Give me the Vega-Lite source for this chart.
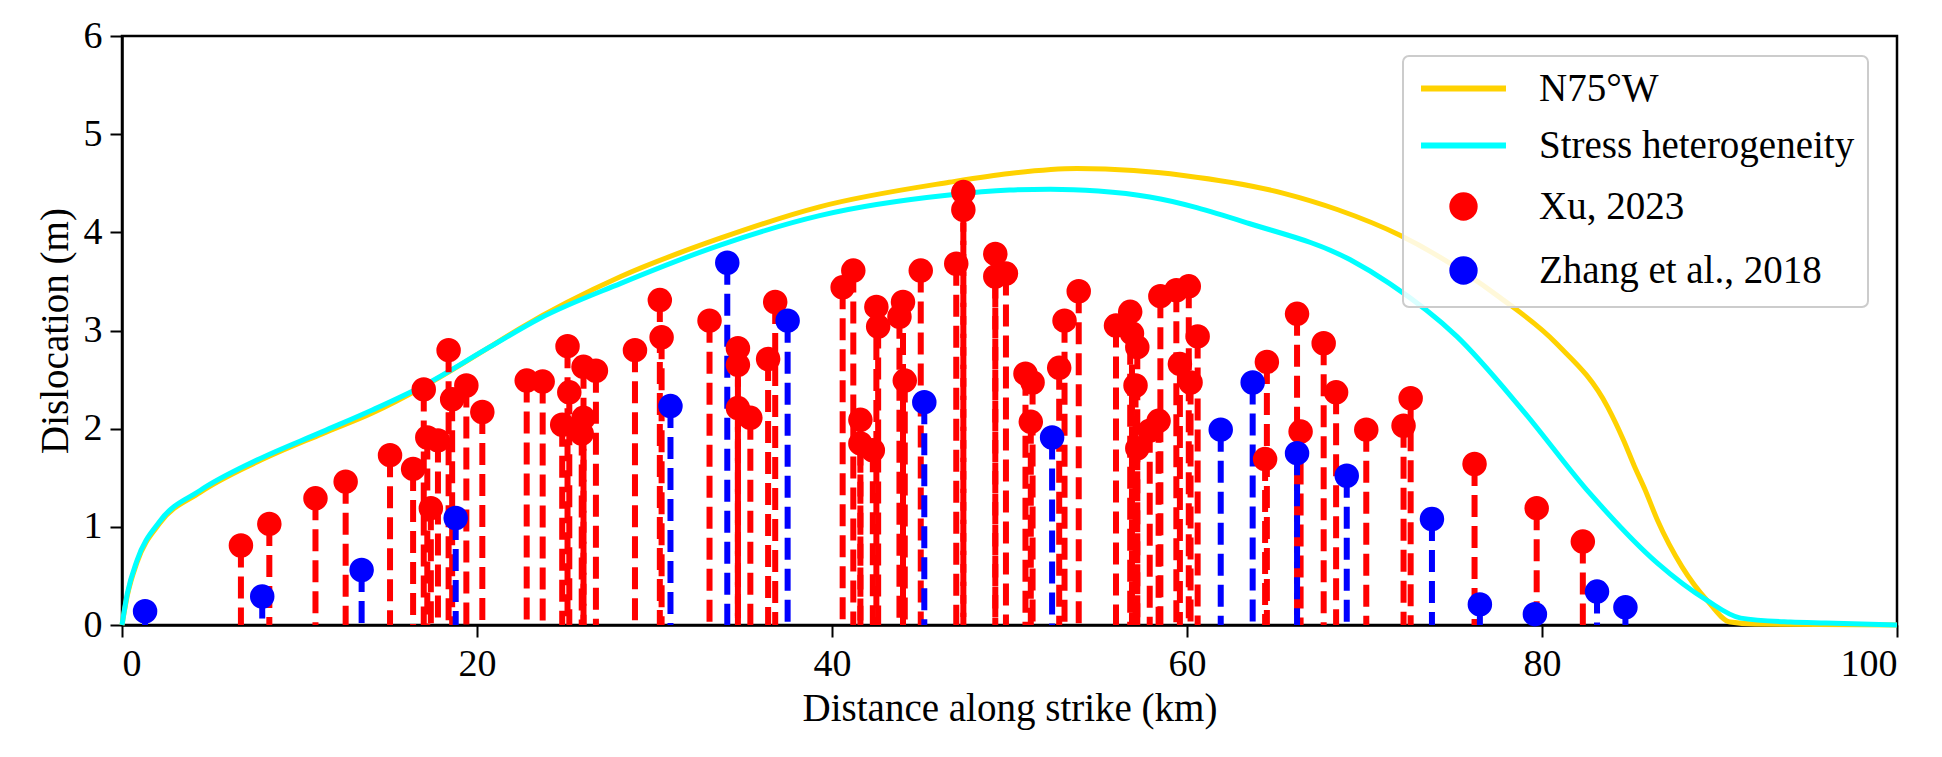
{
  "$schema": "https://vega.github.io/schema/vega-lite/v6.json",
  "autosize": "none",
  "width": 1775,
  "height": 589,
  "padding": {"left": 122, "top": 36, "right": 45, "bottom": 132},
  "background": "white",
  "config": {
    "font": "Liberation Serif, Times New Roman, DejaVu Serif, serif",
    "view": {"stroke": "black", "strokeWidth": 2.5},
    "axis": {
      "grid": false,
      "domainColor": "black",
      "domainWidth": 2.5,
      "tickColor": "black",
      "tickWidth": 2,
      "tickSize": 12,
      "labelFont": "Liberation Serif, Times New Roman, DejaVu Serif, serif",
      "titleFont": "Liberation Serif, Times New Roman, DejaVu Serif, serif",
      "labelFontSize": 38,
      "labelColor": "black",
      "labelPadding": 8,
      "titleFontSize": 39,
      "titleFontWeight": "normal",
      "titleColor": "black"
    },
    "legend": {
      "symbolOpacity": 1,
      "labelFont": "Liberation Serif, Times New Roman, DejaVu Serif, serif",
      "labelFontSize": 39,
      "labelColor": "black",
      "labelLimit": 600
    }
  },
  "datasets": {
    "curves": [
      {"x": 0, "d": 0, "series": "N75°W"},
      {"x": 0.3, "d": 0.3, "series": "N75°W"},
      {"x": 0.85, "d": 0.64, "series": "N75°W"},
      {"x": 2.1, "d": 1.03, "series": "N75°W"},
      {"x": 4.4, "d": 1.35, "series": "N75°W"},
      {"x": 7.6, "d": 1.66, "series": "N75°W"},
      {"x": 11.3, "d": 1.95, "series": "N75°W"},
      {"x": 14.1, "d": 2.16, "series": "N75°W"},
      {"x": 17, "d": 2.43, "series": "N75°W"},
      {"x": 20.7, "d": 2.83, "series": "N75°W"},
      {"x": 22.4, "d": 3.02, "series": "N75°W"},
      {"x": 28.1, "d": 3.55, "series": "N75°W"},
      {"x": 33.7, "d": 3.94, "series": "N75°W"},
      {"x": 39.3, "d": 4.26, "series": "N75°W"},
      {"x": 46.6, "d": 4.51, "series": "N75°W"},
      {"x": 50, "d": 4.6, "series": "N75°W"},
      {"x": 53.8, "d": 4.65, "series": "N75°W"},
      {"x": 57, "d": 4.63, "series": "N75°W"},
      {"x": 59.8, "d": 4.58, "series": "N75°W"},
      {"x": 65.4, "d": 4.4, "series": "N75°W"},
      {"x": 68.5, "d": 4.23, "series": "N75°W"},
      {"x": 72, "d": 3.97, "series": "N75°W"},
      {"x": 77.6, "d": 3.34, "series": "N75°W"},
      {"x": 80.8, "d": 2.87, "series": "N75°W"},
      {"x": 83.7, "d": 2.22, "series": "N75°W"},
      {"x": 84.6, "d": 1.88, "series": "N75°W"},
      {"x": 85.2, "d": 1.62, "series": "N75°W"},
      {"x": 85.8, "d": 1.38, "series": "N75°W"},
      {"x": 86.5, "d": 1.07, "series": "N75°W"},
      {"x": 87.9, "d": 0.59, "series": "N75°W"},
      {"x": 89.3, "d": 0.25, "series": "N75°W"},
      {"x": 90.6, "d": 0.03, "series": "N75°W"},
      {"x": 92, "d": 0.01, "series": "N75°W"},
      {"x": 100, "d": 0, "series": "N75°W"},
      {"x": 0, "d": 0, "series": "Stress heterogeneity"},
      {"x": 0.3, "d": 0.32, "series": "Stress heterogeneity"},
      {"x": 0.85, "d": 0.66, "series": "Stress heterogeneity"},
      {"x": 2.1, "d": 1.05, "series": "Stress heterogeneity"},
      {"x": 4.4, "d": 1.37, "series": "Stress heterogeneity"},
      {"x": 7.6, "d": 1.68, "series": "Stress heterogeneity"},
      {"x": 11.3, "d": 1.97, "series": "Stress heterogeneity"},
      {"x": 14.1, "d": 2.19, "series": "Stress heterogeneity"},
      {"x": 17, "d": 2.44, "series": "Stress heterogeneity"},
      {"x": 20.7, "d": 2.83, "series": "Stress heterogeneity"},
      {"x": 23.5, "d": 3.12, "series": "Stress heterogeneity"},
      {"x": 28.1, "d": 3.48, "series": "Stress heterogeneity"},
      {"x": 33.7, "d": 3.87, "series": "Stress heterogeneity"},
      {"x": 39.3, "d": 4.17, "series": "Stress heterogeneity"},
      {"x": 46.6, "d": 4.38, "series": "Stress heterogeneity"},
      {"x": 50, "d": 4.43, "series": "Stress heterogeneity"},
      {"x": 52.3, "d": 4.44, "series": "Stress heterogeneity"},
      {"x": 55, "d": 4.42, "series": "Stress heterogeneity"},
      {"x": 57.9, "d": 4.36, "series": "Stress heterogeneity"},
      {"x": 63.5, "d": 4.09, "series": "Stress heterogeneity"},
      {"x": 69.2, "d": 3.72, "series": "Stress heterogeneity"},
      {"x": 71.4, "d": 3.48, "series": "Stress heterogeneity"},
      {"x": 75.2, "d": 2.94, "series": "Stress heterogeneity"},
      {"x": 78.9, "d": 2.19, "series": "Stress heterogeneity"},
      {"x": 82.7, "d": 1.34, "series": "Stress heterogeneity"},
      {"x": 86.5, "d": 0.63, "series": "Stress heterogeneity"},
      {"x": 89.3, "d": 0.25, "series": "Stress heterogeneity"},
      {"x": 91.2, "d": 0.07, "series": "Stress heterogeneity"},
      {"x": 94, "d": 0.03, "series": "Stress heterogeneity"},
      {"x": 96, "d": 0.02, "series": "Stress heterogeneity"},
      {"x": 100, "d": 0, "series": "Stress heterogeneity"}
    ],
    "obs": [
      {"x": 6.7, "d": 0.81, "series": "Xu, 2023"},
      {"x": 8.3, "d": 1.03, "series": "Xu, 2023"},
      {"x": 10.9, "d": 1.29, "series": "Xu, 2023"},
      {"x": 12.6, "d": 1.46, "series": "Xu, 2023"},
      {"x": 15.1, "d": 1.73, "series": "Xu, 2023"},
      {"x": 16.4, "d": 1.59, "series": "Xu, 2023"},
      {"x": 17.0, "d": 2.40, "series": "Xu, 2023"},
      {"x": 17.2, "d": 1.91, "series": "Xu, 2023"},
      {"x": 17.4, "d": 1.19, "series": "Xu, 2023"},
      {"x": 17.8, "d": 1.88, "series": "Xu, 2023"},
      {"x": 18.4, "d": 2.80, "series": "Xu, 2023"},
      {"x": 18.6, "d": 2.30, "series": "Xu, 2023"},
      {"x": 19.4, "d": 2.44, "series": "Xu, 2023"},
      {"x": 20.3, "d": 2.17, "series": "Xu, 2023"},
      {"x": 22.8, "d": 2.49, "series": "Xu, 2023"},
      {"x": 23.7, "d": 2.48, "series": "Xu, 2023"},
      {"x": 24.8, "d": 2.04, "series": "Xu, 2023"},
      {"x": 25.1, "d": 2.84, "series": "Xu, 2023"},
      {"x": 25.2, "d": 2.37, "series": "Xu, 2023"},
      {"x": 26.0, "d": 2.63, "series": "Xu, 2023"},
      {"x": 26.0, "d": 2.11, "series": "Xu, 2023"},
      {"x": 25.9, "d": 1.95, "series": "Xu, 2023"},
      {"x": 26.7, "d": 2.59, "series": "Xu, 2023"},
      {"x": 28.9, "d": 2.80, "series": "Xu, 2023"},
      {"x": 30.3, "d": 3.31, "series": "Xu, 2023"},
      {"x": 30.4, "d": 2.93, "series": "Xu, 2023"},
      {"x": 33.1, "d": 3.10, "series": "Xu, 2023"},
      {"x": 34.7, "d": 2.82, "series": "Xu, 2023"},
      {"x": 34.7, "d": 2.65, "series": "Xu, 2023"},
      {"x": 34.7, "d": 2.21, "series": "Xu, 2023"},
      {"x": 35.4, "d": 2.11, "series": "Xu, 2023"},
      {"x": 36.4, "d": 2.71, "series": "Xu, 2023"},
      {"x": 36.8, "d": 3.29, "series": "Xu, 2023"},
      {"x": 40.6, "d": 3.44, "series": "Xu, 2023"},
      {"x": 41.2, "d": 3.61, "series": "Xu, 2023"},
      {"x": 41.6, "d": 2.09, "series": "Xu, 2023"},
      {"x": 41.6, "d": 1.85, "series": "Xu, 2023"},
      {"x": 42.3, "d": 1.78, "series": "Xu, 2023"},
      {"x": 42.5, "d": 3.24, "series": "Xu, 2023"},
      {"x": 42.6, "d": 3.04, "series": "Xu, 2023"},
      {"x": 43.8, "d": 3.14, "series": "Xu, 2023"},
      {"x": 44.0, "d": 3.29, "series": "Xu, 2023"},
      {"x": 44.1, "d": 2.49, "series": "Xu, 2023"},
      {"x": 45.0, "d": 3.61, "series": "Xu, 2023"},
      {"x": 47.0, "d": 3.68, "series": "Xu, 2023"},
      {"x": 47.4, "d": 4.41, "series": "Xu, 2023"},
      {"x": 47.4, "d": 4.23, "series": "Xu, 2023"},
      {"x": 49.2, "d": 3.78, "series": "Xu, 2023"},
      {"x": 49.2, "d": 3.55, "series": "Xu, 2023"},
      {"x": 49.8, "d": 3.58, "series": "Xu, 2023"},
      {"x": 50.9, "d": 2.56, "series": "Xu, 2023"},
      {"x": 51.3, "d": 2.47, "series": "Xu, 2023"},
      {"x": 51.2, "d": 2.07, "series": "Xu, 2023"},
      {"x": 52.8, "d": 2.62, "series": "Xu, 2023"},
      {"x": 53.1, "d": 3.10, "series": "Xu, 2023"},
      {"x": 53.9, "d": 3.40, "series": "Xu, 2023"},
      {"x": 56.0, "d": 3.05, "series": "Xu, 2023"},
      {"x": 56.8, "d": 3.19, "series": "Xu, 2023"},
      {"x": 56.9, "d": 2.97, "series": "Xu, 2023"},
      {"x": 57.2, "d": 2.83, "series": "Xu, 2023"},
      {"x": 57.1, "d": 2.44, "series": "Xu, 2023"},
      {"x": 57.2, "d": 1.80, "series": "Xu, 2023"},
      {"x": 57.9, "d": 1.98, "series": "Xu, 2023"},
      {"x": 58.4, "d": 2.08, "series": "Xu, 2023"},
      {"x": 58.5, "d": 3.35, "series": "Xu, 2023"},
      {"x": 59.4, "d": 3.41, "series": "Xu, 2023"},
      {"x": 59.6, "d": 2.66, "series": "Xu, 2023"},
      {"x": 60.1, "d": 3.45, "series": "Xu, 2023"},
      {"x": 60.2, "d": 2.47, "series": "Xu, 2023"},
      {"x": 60.6, "d": 2.94, "series": "Xu, 2023"},
      {"x": 64.4, "d": 1.69, "series": "Xu, 2023"},
      {"x": 64.5, "d": 2.68, "series": "Xu, 2023"},
      {"x": 66.2, "d": 3.17, "series": "Xu, 2023"},
      {"x": 66.4, "d": 1.97, "series": "Xu, 2023"},
      {"x": 67.7, "d": 2.87, "series": "Xu, 2023"},
      {"x": 68.4, "d": 2.37, "series": "Xu, 2023"},
      {"x": 70.1, "d": 1.99, "series": "Xu, 2023"},
      {"x": 72.2, "d": 2.03, "series": "Xu, 2023"},
      {"x": 72.6, "d": 2.31, "series": "Xu, 2023"},
      {"x": 76.2, "d": 1.64, "series": "Xu, 2023"},
      {"x": 79.7, "d": 1.19, "series": "Xu, 2023"},
      {"x": 82.3, "d": 0.85, "series": "Xu, 2023"},
      {"x": 1.3, "d": 0.14, "series": "Zhang et al., 2018"},
      {"x": 7.9, "d": 0.29, "series": "Zhang et al., 2018"},
      {"x": 13.5, "d": 0.56, "series": "Zhang et al., 2018"},
      {"x": 18.8, "d": 1.09, "series": "Zhang et al., 2018"},
      {"x": 30.9, "d": 2.23, "series": "Zhang et al., 2018"},
      {"x": 34.1, "d": 3.69, "series": "Zhang et al., 2018"},
      {"x": 37.5, "d": 3.10, "series": "Zhang et al., 2018"},
      {"x": 45.2, "d": 2.27, "series": "Zhang et al., 2018"},
      {"x": 52.4, "d": 1.91, "series": "Zhang et al., 2018"},
      {"x": 61.9, "d": 1.99, "series": "Zhang et al., 2018"},
      {"x": 63.7, "d": 2.47, "series": "Zhang et al., 2018"},
      {"x": 66.2, "d": 1.75, "series": "Zhang et al., 2018"},
      {"x": 69.0, "d": 1.52, "series": "Zhang et al., 2018"},
      {"x": 73.8, "d": 1.08, "series": "Zhang et al., 2018"},
      {"x": 76.5, "d": 0.21, "series": "Zhang et al., 2018"},
      {"x": 79.6, "d": 0.11, "series": "Zhang et al., 2018"},
      {"x": 83.1, "d": 0.34, "series": "Zhang et al., 2018"},
      {"x": 84.7, "d": 0.18, "series": "Zhang et al., 2018"}
    ]
  },
  "layer": [
    {
      "data": {"name": "curves"},
      "mark": {"type": "line", "strokeWidth": 5, "interpolate": "monotone"},
      "encoding": {
        "x": {
          "field": "x",
          "type": "quantitative",
          "scale": {"domain": [0, 100], "nice": false},
          "axis": {"values": [0, 20, 40, 60, 80, 100], "format": "d", "title": "Distance along strike (km)", "titlePadding": 6}
        },
        "y": {
          "field": "d",
          "type": "quantitative",
          "scale": {"domain": [0, 6], "nice": false},
          "axis": {"values": [0, 1, 2, 3, 4, 5, 6], "format": "d", "title": "Dislocation (m)", "titlePadding": 8}
        },
        "color": {
          "field": "series",
          "type": "nominal",
          "scale": {
            "domain": ["N75°W", "Stress heterogeneity", "Xu, 2023", "Zhang et al., 2018"],
            "range": ["#FFD200", "#00FFFF", "#FF0000", "#0000FF"]
          },
          "legend": {
            "title": null,
            "orient": "none",
            "legendX": 1281,
            "legendY": 20,
            "padding": 13,
            "rowPadding": 17,
            "symbolOffset": 28,
            "labelOffset": 56,
            "labelLimit": 600,
            "strokeColor": "#cccccc",
            "cornerRadius": 6,
            "fillColor": "rgba(255,255,255,0.85)",
            "symbolSize": 500,
            "encode": {
              "legend": {"update": {"strokeWidth": {"value": 2}}},
              "symbols": {
                "update": {
                  "fill": {"scale": "color", "field": "value"},
                  "stroke": {"scale": "color", "field": "value"},
                  "strokeWidth": {"value": 6}
                }
              }
            }
          }
        }
      }
    },
    {
      "data": {"name": "obs"},
      "mark": {"type": "rule", "strokeWidth": 6, "strokeDash": [22, 9]},
      "encoding": {
        "x": {"field": "x", "type": "quantitative"},
        "y": {"field": "d", "type": "quantitative"},
        "y2": {"value": {"expr": "scale('y', 0)"}},
        "color": {"field": "series", "type": "nominal", "legend": null}
      }
    },
    {
      "data": {"name": "obs"},
      "mark": {"type": "point", "filled": true, "opacity": 1, "size": 600},
      "encoding": {
        "x": {"field": "x", "type": "quantitative"},
        "y": {"field": "d", "type": "quantitative"},
        "color": {"field": "series", "type": "nominal"},
        "shape": {
          "field": "series",
          "type": "nominal",
          "scale": {
            "domain": ["N75°W", "Stress heterogeneity", "Xu, 2023", "Zhang et al., 2018"],
            "range": ["M-3.8,0H3.8", "M-3.8,0H3.8", "circle", "circle"]
          }
        }
      }
    }
  ]
}
